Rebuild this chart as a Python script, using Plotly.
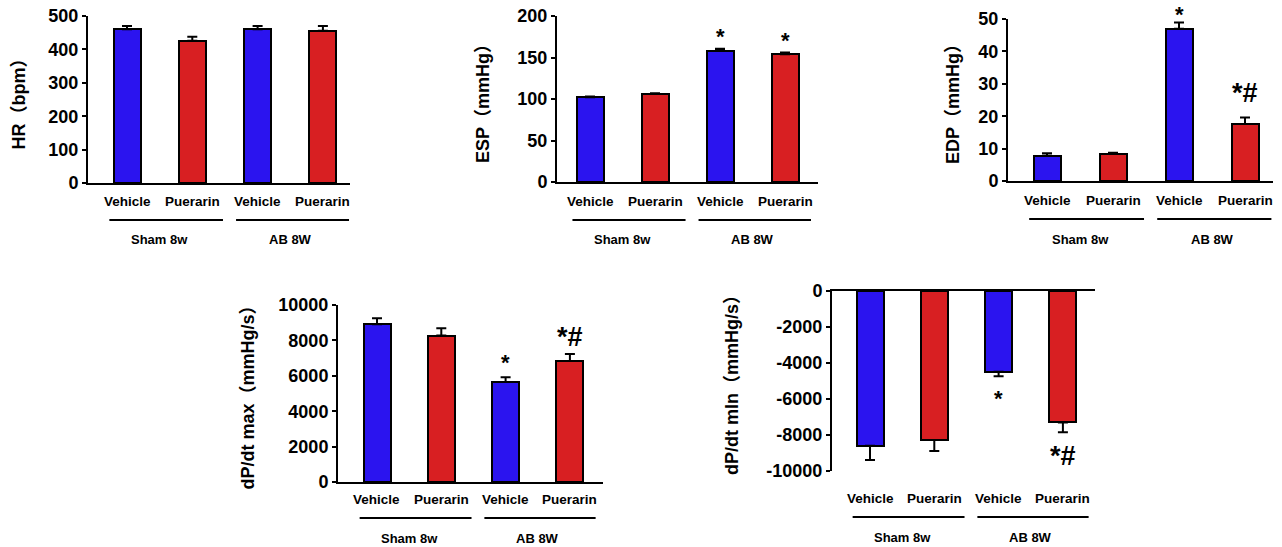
import plotly.graph_objects as go

W, H = 1282, 547

# ---- data ----
categories = ["Vehicle", "Puerarin", "Vehicle", "Puerarin"]
groups = ["Sham 8w", "AB 8W"]
bar_colors = ["#2b14ef", "#d81f22", "#2b14ef", "#d81f22"]

hr = [460, 426, 460, 456]
hr_err = [10, 12, 10, 14]
esp = [102, 106, 158, 154]
esp_err = [1, 0.8, 2.5, 2]
edp = [7.8, 8.3, 47.0, 17.6]
edp_err = [0.8, 0.4, 1.9, 2.0]
dpmax = [8910, 8270, 5650, 6840]
dpmax_err = [340, 410, 265, 390]
dpmin = [-8600, -8280, -4490, -7300]
dpmin_err = [790, 610, 240, 550]

hr_ticks = [0, 100, 200, 300, 400, 500]
esp_ticks = [0, 50, 100, 150, 200]
edp_ticks = [0, 10, 20, 30, 40, 50]
dpmax_ticks = [0, 2000, 4000, 6000, 8000, 10000]
dpmin_ticks = [0, -2000, -4000, -6000, -8000, -10000]

hr_sig = ["", "", "", ""]
esp_sig = ["", "", "*", "*"]
edp_sig = ["", "", "*", "*#"]
dpmax_sig = ["", "", "*", "*#"]
dpmin_sig = ["", "", "*", "*#"]

FONT = "Liberation Sans, Arial, Noto Sans CJK SC, sans-serif"

# panel layout in pixels
panels = [
    dict(vals=hr, err=hr_err, sig=hr_sig, ticks=hr_ticks, title="HR（bpm）", rng=[0, 500],
         xl=88, xr=350, ytop=16, ybot=183, c0=127, sp=65.3, neg=False, sig_shift=[0, 0],
         title_x=18, cat_y=202, line_y=220, grp_y=240),
    dict(vals=esp, err=esp_err, sig=esp_sig, ticks=esp_ticks, title="ESP（mmHg）", rng=[0, 200],
         xl=557, xr=818, ytop=16, ybot=182, c0=590, sp=65.0, neg=False, sig_shift=[-2, -2],
         title_x=483, cat_y=202, line_y=220, grp_y=240),
    dict(vals=edp, err=edp_err, sig=edp_sig, ticks=edp_ticks, title="EDP（mmHg）", rng=[0, 50],
         xl=1008, xr=1273, ytop=19, ybot=181, c0=1047, sp=66.0, neg=False, sig_shift=[-6, 8],
         title_x=953, cat_y=200, line_y=219, grp_y=240),
    dict(vals=dpmax, err=dpmax_err, sig=dpmax_sig, ticks=dpmax_ticks, title="dP/dt max（mmHg/s）",
         rng=[0, 10000], xl=338, xr=603, ytop=305, ybot=482, c0=377, sp=64.3, neg=False,
         sig_shift=[0, 0], title_x=247, cat_y=499, line_y=518, grp_y=538),
    dict(vals=dpmin, err=dpmin_err, sig=dpmin_sig, ticks=dpmin_ticks, title="dP/dt mln（mmHg/s）",
         rng=[-10000, 0], xl=832, xr=1095, ytop=291, ybot=471, c0=870, sp=64.3, neg=True,
         sig_shift=[-8, -7], title_x=732, cat_y=498, line_y=517, grp_y=537),
]

fig = go.Figure()
layout = dict(width=W, height=H, margin=dict(l=0, r=0, t=0, b=0, pad=0, autoexpand=False),
              paper_bgcolor="white", plot_bgcolor="white", showlegend=False, bargap=0)
annotations = []
shapes = []


def px(p):
    return p / W


def py(p):
    return 1 - p / H


for i, p in enumerate(panels):
    n = "" if i == 0 else str(i + 1)
    xa, ya = "x" + n, "y" + n
    bw = 27 / p["sp"]
    xs = list(range(len(categories)))
    if p["neg"]:
        ey = dict(type="data", symmetric=False, array=[0] * 4, arrayminus=p["err"],
                  color="black", thickness=2, width=5)
    else:
        ey = dict(type="data", symmetric=False, array=p["err"], arrayminus=[0] * 4,
                  color="black", thickness=2, width=5)
    fig.add_trace(go.Bar(x=xs, y=p["vals"], width=bw, xaxis=xa, yaxis=ya,
                         marker=dict(color=bar_colors, line=dict(color="black", width=2)),
                         error_y=ey, hoverinfo="skip"))
    x0 = (p["xl"] - p["c0"]) / p["sp"]
    x1 = (p["xr"] - p["c0"]) / p["sp"]
    layout["xaxis" + n] = dict(domain=[px(p["xl"]), px(p["xr"])], range=[x0, x1],
                               anchor=ya, showline=True, linecolor="black", linewidth=2,
                               showticklabels=False, ticks="", showgrid=False, zeroline=False,
                               side="top" if p["neg"] else "bottom", fixedrange=True,
                               automargin=False)
    layout["yaxis" + n] = dict(domain=[py(p["ybot"]), py(p["ytop"])], range=p["rng"],
                               anchor=xa, showline=True, linecolor="black", linewidth=2,
                               ticks="outside", ticklen=4, tickwidth=2, tickcolor="black",
                               tickmode="array", tickvals=p["ticks"],
                               ticktext=[f"<b>{t}</b>" for t in p["ticks"]],
                               ticklabeloverflow="allow",
                               showgrid=False, zeroline=False, automargin=False,
                               tickfont=dict(family=FONT, size=18, color="black"),
                               fixedrange=True)
    # y title
    annotations.append(dict(text=f"<b>{p['title']}</b>", xref="paper", yref="paper",
                            x=px(p["title_x"]), y=py((p["ytop"] + p["ybot"]) / 2),
                            textangle=-90, showarrow=False, xanchor="center", yanchor="middle",
                            font=dict(family=FONT, size=18, color="black")))
    # category labels
    for j, c in enumerate(categories):
        annotations.append(dict(text=f"<b>{c}</b>", xref=xa, yref="paper", x=j, y=py(p["cat_y"]),
                                showarrow=False, xanchor="center", yanchor="middle",
                                font=dict(family=FONT, size=13.5, color="black")))
    # group lines + labels
    for g, (a, b) in enumerate([(-0.27, 1.47), (1.67, 3.4)]):
        shapes.append(dict(type="line", xref=xa, yref="paper", x0=a, x1=b,
                           y0=py(p["line_y"]), y1=py(p["line_y"]),
                           line=dict(color="black", width=2)))
        annotations.append(dict(text=f"<b>{groups[g]}</b>", xref=xa, yref="paper",
                                x=2 * g + 0.5, y=py(p["grp_y"]), showarrow=False,
                                xanchor="center", yanchor="middle",
                                font=dict(family=FONT, size=13, color="black")))
    # significance marks
    for j, s in enumerate(p["sig"]):
        if not s:
            continue
        size = 22 if s == "*" else 27
        shift = p["sig_shift"][0] if s == "*" else p["sig_shift"][1]
        if p["neg"]:
            annotations.append(dict(text=f"<b>{s}</b>", xref=xa, yref=ya, x=j,
                                    y=p["vals"][j] - p["err"][j], showarrow=False,
                                    xanchor="center", yanchor="top", yshift=shift,
                                    font=dict(family=FONT, size=size, color="black")))
        else:
            annotations.append(dict(text=f"<b>{s}</b>", xref=xa, yref=ya, x=j,
                                    y=p["vals"][j] + p["err"][j], showarrow=False,
                                    xanchor="center", yanchor="bottom", yshift=shift,
                                    font=dict(family=FONT, size=size, color="black")))

layout["annotations"] = annotations
layout["shapes"] = shapes
fig.update_layout(**layout)
fig.write_html("out.html", config={"displayModeBar": False},
               post_script="document.body.style.margin='0px';")
